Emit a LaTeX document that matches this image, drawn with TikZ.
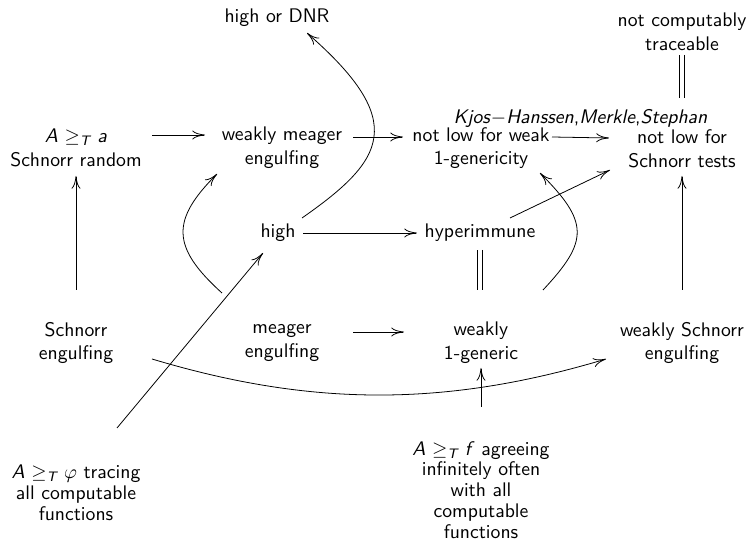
\documentclass[tikz,border=0pt]{standalone}
\usetikzlibrary{arrows.meta}
\newcommand{\geT}{\ensuremath{\geq_{\mbox{\fontsize{7}{8}\selectfont\itshape T}}}}
\begin{document}
\begin{tikzpicture}[x=0.508pt,y=-0.508pt,font=\sffamily,
  lab/.style={align=center,inner sep=2pt},
  tight/.style={align=center,inner sep=0pt,font=\sffamily\fontsize{10}{10.6}\selectfont},
  conn/.style={line width=0.4pt},
  arr/.style={conn,-{To[length=6.5pt,width=4.6pt]}},
  eqv/.style={line width=0.4pt,double distance=2pt}]
\useasboundingbox (0,0) rectangle (749,540);
% nodes
\node[lab] (ar)   at (76,148)  {\textit{A} \geT\ \textit{a}\\Schnorr random};
\node[lab] (wme)  at (282,148) {weakly meager\\engulfing};
\node[lab] (nlw)  at (481,148) {not low for weak\\1-genericity};
\node[lab] (nls)  at (682,149) {not low for\\Schnorr tests};
\node[lab] (hdnr) at (277,18)  {high or DNR};
\node[lab] (nct)  at (682,32)  {not computably\\traceable};
\node[lab] (high) at (278,233) {high};
\node[lab] (hyp)  at (480,233) {hyperimmune};
\node[lab] (se)   at (76,343)  {Schnorr\\engulfing};
\node[lab] (me)   at (282,343) {meager\\engulfing};
\node[lab] (wig)  at (481,343) {weakly\\1-generic};
\node[lab] (wse)  at (682,343) {weakly Schnorr\\engulfing};
\node[tight] (phi)  at (76,493)  {\textit{A} \geT\ $\varphi$ tracing\\all computable\\functions};
\node[tight] (fag)  at (481,490) {\textit{A} \geT\ \textit{f} agreeing\\infinitely often\\with all\\computable\\functions};
% straight arrows
\draw[arr] ([shift={(76,-13)}]ar.center) -- ([shift={(-77,-13)}]wme.center);
\draw[arr] ([shift={(71,-11)}]wme.center) -- ([shift={(-78,-11)}]nlw.center);
\draw[arr] ([shift={(71,-11)}]nlw.center) -- node[above=3pt,inner sep=2pt]
  {\textit{Kjos}$-$\textit{Hanssen},\textit{Merkle},\textit{Stephan}} ([shift={(-73,-11)}]nls.center);
\draw[arr] ([shift={(0,-53)}]se.center) -- ([shift={(0,28)}]ar.center);
\draw[arr] ([shift={(0,-53)}]wse.center) -- ([shift={(0,27)}]nls.center);
\draw[eqv] ([shift={(0,23)}]nct.center) -- ([shift={(0,-51)}]nls.center);
\draw[eqv] ([shift={(0,17)}]hyp.center) -- ([shift={(-1,-53)}]wig.center);
\draw[arr] ([shift={(25,0)}]high.center) -- ([shift={(-63,0)}]hyp.center);
\draw[arr] ([shift={(71,-11)}]me.center) -- ([shift={(-77,-11)}]wig.center);
\draw[arr] ([shift={(41,-65)}]phi.center) -- ([shift={(-15,20)}]high.center);
\draw[arr] ([shift={(30,-15)}]hyp.center) -- ([shift={(-72,21)}]nls.center);
\draw[arr] ([shift={(0,-83)}]fag.center) -- ([shift={(0,25)}]wig.center);
% curved arrows
\draw[arr] ([shift={(76,16)}]se.center) .. controls +(160,48) and +(-160,48) .. ([shift={(-76,16)}]wse.center);
\draw[arr] ([shift={(-60,-50)}]me.center) .. controls +(-51,-46) and +(-46,46) .. ([shift={(-65,26)}]wme.center);
\draw[arr] ([shift={(62,-53)}]wig.center) .. controls +(46,-49) and +(49,49) .. ([shift={(59,25)}]nlw.center);
\draw[arr] ([shift={(24,-15)}]high.center) .. controls +(83,-58) and +(102,89) .. ([shift={(30,15)}]hdnr.center);
\end{tikzpicture}
\end{document}
